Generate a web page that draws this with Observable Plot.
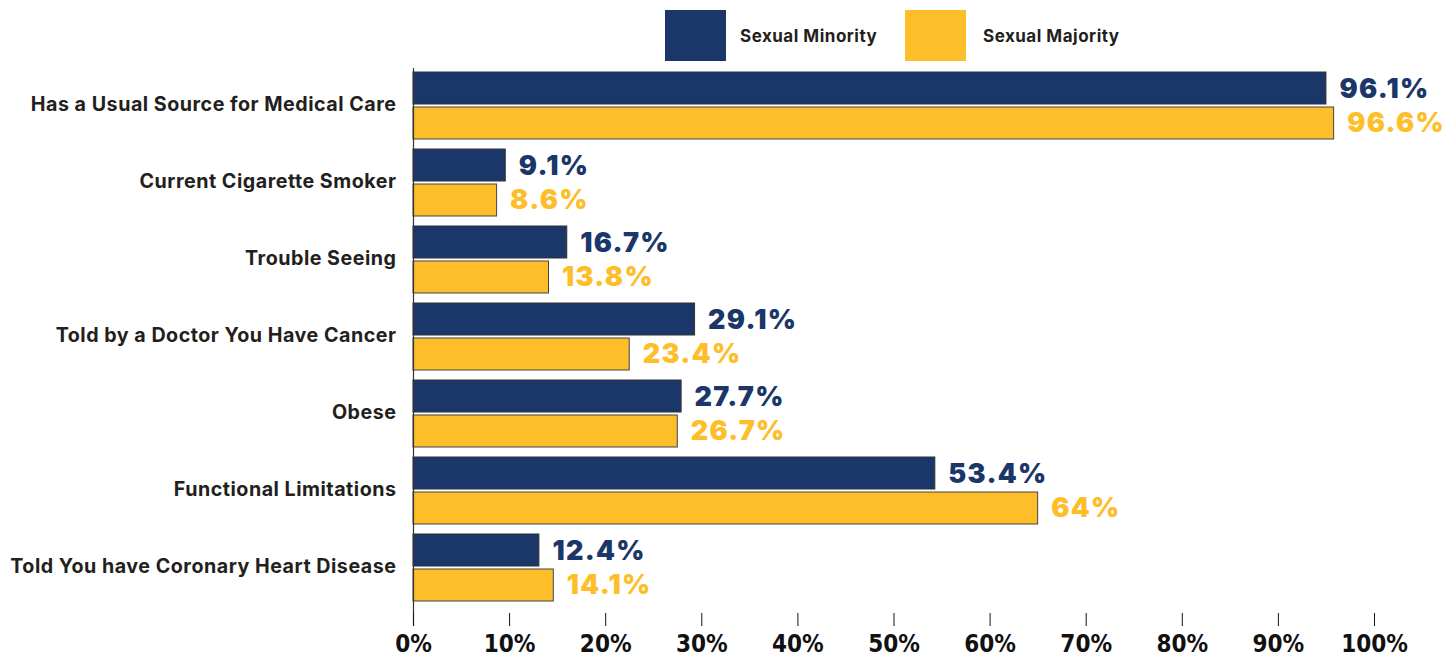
<!DOCTYPE html>
<html><head><meta charset="utf-8">
<script src="https://cdn.jsdelivr.net/npm/d3@7"></script>
<script src="https://cdn.jsdelivr.net/npm/@observablehq/plot@0.6"></script>
<style>
body{margin:0;background:#fff;font-family:Inter,sans-serif;}
#legend{height:64px;position:relative;width:1456px;}
.sw{position:absolute;top:10px;width:61px;height:51px;}
.lt{position:absolute;top:0;line-height:72px;font-family:Inter,sans-serif;font-weight:700;font-size:17px;letter-spacing:0.5px;color:#231f20;white-space:nowrap;}
#chart svg{display:block;}
svg text.vl{letter-spacing:1.3px;}
svg g[aria-label='y-axis tick label'] text{letter-spacing:0.5px;}
</style></head><body>
<div id="legend"></div>
<div id="chart"></div>
<script>
const categories = [
  "Has a Usual Source for Medical Care",
  "Current Cigarette Smoker",
  "Trouble Seeing",
  "Told by a Doctor You Have Cancer",
  "Obese",
  "Functional Limitations",
  "Told You have Coronary Heart Disease"
];
const seriesNames = ["Sexual Minority", "Sexual Majority"];
const seriesColors = ["#1b3769", "#fdbe2a"];
// bar lengths as drawn in the picture (%)
const minorityValues = [95.0, 9.6, 16.0, 29.3, 27.9, 54.3, 13.1];
const majorityValues = [95.8, 8.7, 14.1, 22.5, 27.5, 65.0, 14.6];
// value labels as printed
const minorityLabels = ["96.1%", "9.1%", "16.7%", "29.1%", "27.7%", "53.4%", "12.4%"];
const majorityLabels = ["96.6%", "8.6%", "13.8%", "23.4%", "26.7%", "64%", "14.1%"];
const xTicks = [0, 10, 20, 30, 40, 50, 60, 70, 80, 90, 100];

// legend
const legend = document.getElementById("legend");
const legendPos = [[665, 740], [905, 983]];
seriesNames.forEach((name, i) => {
  const sw = document.createElement("div");
  sw.className = "sw"; sw.style.left = legendPos[i][0] + "px"; sw.style.background = seriesColors[i];
  const lt = document.createElement("div");
  lt.className = "lt"; lt.style.left = legendPos[i][1] + "px"; lt.textContent = name;
  legend.appendChild(sw); legend.appendChild(lt);
});

const minorityRows = categories.map((c, i) => ({category: c, value: minorityValues[i], label: minorityLabels[i]}));
const majorityRows = categories.map((c, i) => ({category: c, value: majorityValues[i], label: majorityLabels[i]}));

const chart = Plot.plot({
  width: 1456,
  height: 594,
  marginTop: 4,
  marginBottom: 32,
  marginLeft: 413,
  marginRight: 82,
  x: {domain: [0, 100], axis: null, label: null},
  y: {domain: categories, axis: null, label: null, paddingInner: 0.13, paddingOuter: 0, insetTop: 3, insetBottom: 25},
  marks: [
    Plot.barX(minorityRows, {x: "value", y: "category", fill: seriesColors[0], stroke: "#333", strokeWidth: 1, insetBottom: 35}),
    Plot.barX(majorityRows, {x: "value", y: "category", fill: seriesColors[1], stroke: "#444", strokeWidth: 1, insetTop: 35}),
    Plot.text(minorityRows, {x: "value", y: "category", text: "label", dx: 13, dy: -17, textAnchor: "start", fill: seriesColors[0], fontSize: 27, fontWeight: 900, fontFamily: "Inter"}),
    Plot.text(majorityRows, {x: "value", y: "category", text: "label", dx: 13, dy: 17, textAnchor: "start", fill: seriesColors[1], fontSize: 27, fontWeight: 900, fontFamily: "Inter"}),
    Plot.ruleX([0], {stroke: "#333", strokeWidth: 1.2}),
    Plot.axisY({label: null, tickSize: 0, tickPadding: 17, fontSize: 19.7, fontWeight: 700, fontFamily: "Inter", color: "#231f20", dy: -1}),
    Plot.axisX(xTicks, {label: null, anchor: "bottom", tickSize: -13, tickPadding: 21, tickFormat: d => d + "%", line: true, fontSize: 24, fontWeight: 700, fontFamily: "DejaVu Sans Condensed", color: "#111", strokeOpacity: 1})
  ]
});
chart.querySelectorAll("g[aria-label='text'] text").forEach(t => t.classList.add("vl"));
document.getElementById("chart").appendChild(chart);
</script>
</body></html>
